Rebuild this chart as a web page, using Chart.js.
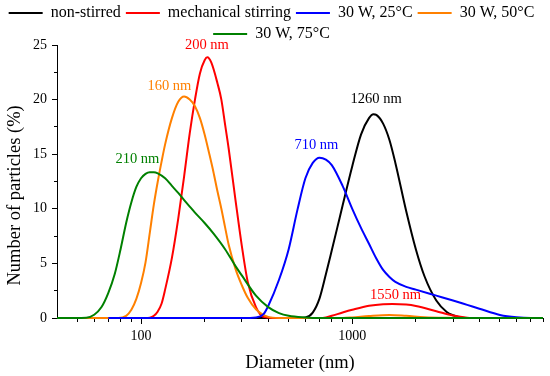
<!DOCTYPE html>
<html>
<head>
<meta charset="utf-8">
<script src="https://cdn.jsdelivr.net/npm/chart.js@4.4.1/dist/chart.umd.min.js"></script>
<style>
  html, body { margin: 0; padding: 0; background: #fff; }
  #wrap { width: 550px; height: 376px; }
</style>
</head>
<body>
<div id="wrap"><canvas id="grafico" width="550" height="376"></canvas></div>
<script>
// size distributions: diameter (nm) and number of particles (%)
var nonStirredNm  = [40, 550, 600, 650, 700, 750, 800, 850, 900, 1000, 1100, 1200, 1260, 1300, 1400, 1500, 1600, 1800, 2000, 2200, 2500, 2800, 3000, 3300, 3600, 8000];
var nonStirredPct = [0, 0, 0.05, 0.5, 1.8, 4.0, 6.2, 8.3, 10.3, 13.9, 16.8, 18.3, 18.66, 18.6, 17.8, 16.3, 14.2, 9.8, 6.3, 3.8, 1.6, 0.55, 0.25, 0.03, 0, 0];

var mechanicalNm  = [40, 105, 110, 115, 120, 125, 130, 140, 150, 160, 170, 180, 190, 200, 206, 215, 230, 240, 250, 260, 280, 300, 320, 350, 380, 420, 700, 750, 800, 900, 1000, 1200, 1400, 1550, 1800, 2000, 2500, 3000, 3500, 4000, 8000];
var mechanicalPct = [0, 0, 0.03, 0.2, 0.6, 1.3, 2.6, 5.5, 9.1, 13.0, 16.9, 20.0, 22.4, 23.6, 23.87, 23.4, 21.5, 20.0, 17.7, 15.5, 10.8, 6.6, 3.3, 1.0, 0.1, 0, 0, 0.05, 0.2, 0.5, 0.75, 1.12, 1.27, 1.29, 1.23, 1.1, 0.62, 0.22, 0.03, 0, 0];

var w25Nm  = [70, 300, 350, 380, 400, 450, 500, 550, 600, 650, 700, 750, 800, 900, 1000, 1100, 1200, 1300, 1400, 1500, 1600, 1800, 2000, 2500, 3000, 3500, 4000, 5000, 6000, 7000, 8000];
var w25Pct = [0, 0, 0.05, 0.35, 1.1, 3.5, 6.3, 9.9, 12.8, 14.2, 14.68, 14.5, 14.0, 12.1, 10.0, 8.25, 6.8, 5.45, 4.4, 3.75, 3.3, 2.85, 2.6, 2.05, 1.6, 1.2, 0.85, 0.28, 0.06, 0, 0];

var w50Nm  = [40, 78, 85, 90, 95, 100, 105, 110, 115, 120, 125, 130, 140, 150, 160, 170, 180, 190, 200, 210, 220, 230, 240, 250, 260, 280, 300, 320, 350, 400, 450, 900, 1000, 1200, 1500, 1800, 2200, 2800, 3500, 8000];
var w50Pct = [0, 0, 0.2, 0.75, 1.75, 3.2, 5.1, 7.8, 10.4, 12.5, 14.3, 15.9, 18.3, 19.8, 20.28, 20.0, 19.4, 18.3, 16.8, 15.1, 13.4, 11.6, 10.0, 8.3, 6.7, 4.5, 3.0, 1.85, 0.8, 0.1, 0, 0, 0.05, 0.18, 0.28, 0.2, 0.08, 0.02, 0, 0];

var w75Nm  = [40, 55, 60, 65, 70, 75, 80, 85, 90, 95, 100, 105, 110, 115, 120, 130, 140, 150, 160, 170, 180, 200, 220, 250, 280, 300, 350, 400, 450, 500, 600, 700, 8000];
var w75Pct = [0, 0.03, 0.3, 1.0, 2.3, 4.0, 6.3, 8.7, 10.6, 12.0, 12.8, 13.2, 13.35, 13.35, 13.25, 12.8, 12.1, 11.45, 10.8, 10.2, 9.65, 8.7, 7.75, 6.3, 4.75, 3.9, 2.05, 1.0, 0.45, 0.2, 0.05, 0, 0];

var seriesNames = ['non-stirred', 'mechanical stirring', '30 W, 25\u00b0C', '30 W, 50\u00b0C', '30 W, 75\u00b0C'];
var seriesColors = ['#000000', '#ff0000', '#0000ff', '#ff8000', '#008000'];

var xTicks = [50, 60, 70, 80, 90, 100, 200, 300, 400, 500, 600, 700, 800, 900, 1000, 2000, 3000, 4000, 5000, 6000, 7000, 8000];
var xTickLabels = [100, 1000];
var yTicks = [0, 2.5, 5, 7.5, 10, 12.5, 15, 17.5, 20, 22.5, 25];

// peak labels: text, colour index, anchor in data units
var peakLabels = [
  ['200 nm', 1, 205, 24.94],
  ['160 nm', 3, 136.2, 21.2],
  ['210 nm', 4, 96.1, 14.52],
  ['710 nm', 2, 676, 15.81],
  ['1260 nm', 0, 1298, 20.0],
  ['1550 nm', 1, 1602, 2.11]
];

var serif = "'Liberation Serif', 'Times New Roman', serif";
Chart.defaults.font.family = serif;
Chart.defaults.color = '#000';

function pontos(nm, pct) {
    return nm.map(function(d, i) { return {x: d, y: pct[i]}; });
}

function serie(i, nm, pct, ordem) {
    return {
        label: seriesNames[i],
        data: pontos(nm, pct),
        borderColor: seriesColors[i],
        backgroundColor: seriesColors[i],
        borderWidth: 2,
        pointRadius: 0,
        cubicInterpolationMode: 'monotone',
        clip: false,
        order: ordem
    };
}

var rotulosPicos = {
    id: 'rotulosPicos',
    afterDatasetsDraw: function(chart) {
        var c = chart.ctx;
        var sx = chart.scales.x, sy = chart.scales.y;
        c.save();
        c.font = '14.5px ' + serif;
        c.textAlign = 'center';
        c.textBaseline = 'middle';
        peakLabels.forEach(function(r) {
            c.fillStyle = seriesColors[r[1]];
            c.fillText(r[0], sx.getPixelForValue(r[2]), sy.getPixelForValue(r[3]));
        });
        c.restore();
    }
};

var ctx = document.getElementById('grafico').getContext('2d');

new Chart(ctx, {
    type: 'line',
    data: {
        datasets: [
            serie(0, nonStirredNm, nonStirredPct, 5),
            serie(1, mechanicalNm, mechanicalPct, 4),
            serie(2, w25Nm, w25Pct, 2),
            serie(3, w50Nm, w50Pct, 3),
            serie(4, w75Nm, w75Pct, 1)
        ]
    },
    options: {
        responsive: false,
        animation: false,
        devicePixelRatio: 1,
        layout: { padding: { left: 0, right: 7, top: 0, bottom: 0 } },
        plugins: {
            legend: {
                position: 'top',
                maxHeight: 45,
                labels: {
                    usePointStyle: true,
                    pointStyle: 'line',
                    pointStyleWidth: 34,
                    padding: 5,
                    color: '#000',
                    font: { size: 16 },
                    sort: function(a, b) { return a.datasetIndex - b.datasetIndex; }
                }
            },
            tooltip: { enabled: false }
        },
        scales: {
            x: {
                type: 'logarithmic',
                min: 40,
                max: 8000,
                afterBuildTicks: function(eixo) {
                    eixo.ticks = xTicks.map(function(v) { return {value: v}; });
                },
                afterFit: function(eixo) { eixo.height = 58; },
                ticks: {
                    autoSkip: false,
                    maxRotation: 0,
                    minRotation: 0,
                    padding: 4,
                    color: '#000',
                    font: { size: 14 },
                    callback: function(v) { return xTickLabels.indexOf(v) >= 0 ? String(v) : ''; }
                },
                grid: {
                    drawOnChartArea: false,
                    drawTicks: true,
                    tickLength: 6,
                    tickColor: '#000',
                    tickWidth: 1,
                    tickBorderDash: function(c) {
                        return (c.tick && xTickLabels.indexOf(c.tick.value) >= 0) ? [] : [3, 20];
                    }
                },
                border: { display: true, color: '#000', width: 1 },
                title: {
                    display: true,
                    text: 'Diameter (nm)',
                    color: '#000',
                    font: { size: 18.5 },
                    padding: { top: 0, bottom: 2 }
                }
            },
            y: {
                min: 0,
                max: 25,
                afterBuildTicks: function(eixo) {
                    eixo.ticks = yTicks.map(function(v) { return {value: v}; });
                },
                afterFit: function(eixo) { eixo.width = 57; },
                ticks: {
                    padding: 5,
                    color: '#000',
                    font: { size: 14 },
                    callback: function(v) { return v % 5 === 0 ? String(v) : ''; }
                },
                grid: {
                    drawOnChartArea: false,
                    drawTicks: true,
                    tickLength: 5,
                    tickColor: '#000',
                    tickWidth: 1,
                    tickBorderDash: function(c) {
                        return (c.tick && c.tick.value % 5 === 0) ? [] : [0, 2, 3, 20];
                    }
                },
                border: { display: true, color: '#000', width: 1 },
                title: {
                    display: true,
                    text: 'Number of particles (%)      ',
                    color: '#000',
                    font: { size: 18.5 },
                    padding: { top: 4, bottom: 0 }
                }
            }
        }
    },
    plugins: [rotulosPicos]
});
</script>
</body>
</html>
